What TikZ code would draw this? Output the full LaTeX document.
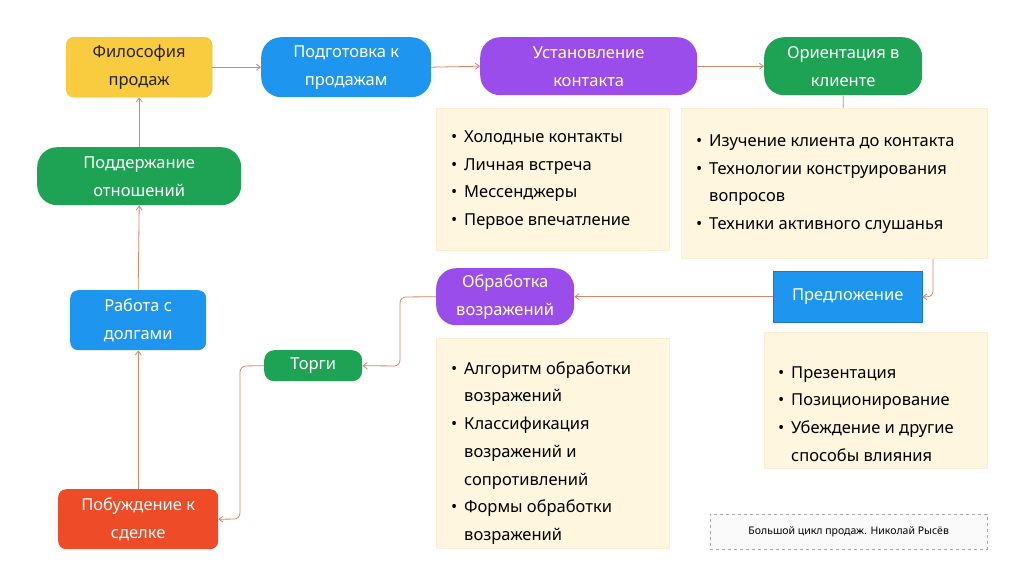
\documentclass[tikz,border=0pt]{standalone}
\usepackage{fontspec}
\setmainfont{Noto Sans}
\usetikzlibrary{arrows.meta}
\definecolor{cyel}{HTML}{F9CB3E}
\definecolor{cblue}{HTML}{1E96F0}
\definecolor{cpur}{HTML}{9B4DEB}
\definecolor{cgrn}{HTML}{1EA355}
\definecolor{cred}{HTML}{EE4B28}
\definecolor{ccream}{HTML}{FEF6DE}
\definecolor{cline}{HTML}{D4876A}
\newcommand{\bl}{\makebox[13pt][l]{•}}
\newcommand{\ct}{\hspace*{13pt}}
\begin{document}
\begin{tikzpicture}[x=1pt,y=-1pt,
  box/.style={anchor=north west,inner sep=0,align=center,text=white,font=\fontsize{16.5}{28}\selectfont},
  cream/.style={anchor=north west,inner sep=0,fill=ccream,draw=ccream!80!orange!60},
  btxt/.style={anchor=west,inner sep=0,align=left,font=\fontsize{16.5}{27.7}\selectfont},
  conn/.style={draw=cline,line width=0.8pt,-{Straight Barb[length=4pt,width=6pt]},rounded corners=6pt}]
\useasboundingbox[fill=white] (0,0) rectangle (1024,587);
% connector hidden behind box
\coordinate (c1) at (843,200);
\coordinate (c2) at (933,200);
\coordinate (c3) at (933,297);
\node[box,fill=cgrn,rounded corners=20pt,minimum width=158pt,minimum height=58pt] (or) at (764,37) {Ориентация в\\клиенте};
\node[box,fill=cblue,draw=cblue!80!black,minimum width=149pt,minimum height=51pt] (pr) at (773,271) {Предложение};
\draw[conn] (or.south) |- (c2) -- (c3) -- (pr.east);
\node[box,fill=cyel,text=black!85,rounded corners=8pt,draw=cyel!85!orange,minimum width=146pt,minimum height=60pt] (fi) at (66,37) {Философия\\продаж};
\node[box,fill=cblue,rounded corners=20pt,minimum width=170pt,minimum height=60pt] (po) at (261,37) {Подготовка к\\продажам};
\node[box,fill=cpur,rounded corners=20pt,minimum width=217pt,minimum height=58pt] (us) at (480,37) {Установление\\контакта};
\node[box,fill=cgrn,rounded corners=20pt,minimum width=204pt,minimum height=58pt] (pd) at (37,147) {Поддержание\\отношений};
\node[box,fill=cpur,rounded corners=20pt,minimum width=138pt,minimum height=57pt] (ob) at (436,268) {Обработка\\возражений};
\node[box,fill=cblue,rounded corners=8pt,minimum width=136pt,minimum height=60pt] (ra) at (70,290) {Работа с\\долгами};
\node[box,fill=cgrn,rounded corners=10pt,minimum width=98pt,minimum height=31pt] (to) at (264,350) {Торги};
\node[box,fill=cred,rounded corners=8pt,minimum width=160pt,minimum height=60pt] (pb) at (58,489) {Побуждение к\\сделке};
% cream boxes
\node[cream,minimum width=233pt,minimum height=142pt] (b1) at (436,108) {};
\node[btxt] (t1) at (451,180) {\bl Холодные контакты\\\bl Личная встреча\\\bl Мессенджеры\\\bl Первое впечатление};
\node[cream,minimum width=306pt,minimum height=150pt] (b2) at (681,108) {};
\node[btxt] (t2) at (696,184) {\bl Изучение клиента до контакта\\\bl Технологии конструирования\\\ct вопросов\\\bl Техники активного слушанья};
\node[cream,minimum width=233pt,minimum height=210pt] (b3) at (436,338) {};
\node[btxt] (t3) at (451,453) {\bl Алгоритм обработки\\\ct возражений\\\bl Классификация\\\ct возражений и\\\ct сопротивлений\\\bl Формы обработки\\\ct возражений};
\node[cream,minimum width=223pt,minimum height=136pt] (b4) at (764,332) {};
\node[btxt] (t4) at (778,414) {\bl Презентация\\\bl Позиционирование\\\bl Убеждение и другие\\\ct способы влияния};
\node[anchor=north west,draw=black!35,dashed,fill=black!2,minimum width=277pt,minimum height=35pt,inner sep=0,font=\fontsize{10.5}{12}\selectfont] (cap) at (710,514) {Большой цикл продаж. Николай Рысёв};
% connectors
\draw[conn] (fi.east) -- (po.west);
\draw[conn] (po.east) -- (us.west);
\draw[conn] (us.east) -- (or.west);
\draw[conn] (pr.west) -- (ob.east);
\coordinate (d1) at (400,297);
\coordinate (d2) at (400,366);
\draw[conn] (ob.west) -- (d1) -- (d2) -- (to.east);
\coordinate (e1) at (240,366);
\coordinate (e2) at (240,519);
\draw[conn] (to.west) -- (e1) -- (e2) -- (pb.east);
\draw[conn] (pb.north) -- (ra.south);
\draw[conn] (ra.north) -- (pd.south);
\draw[conn] (pd.north) -- (fi.south);
\end{tikzpicture}
\end{document}
